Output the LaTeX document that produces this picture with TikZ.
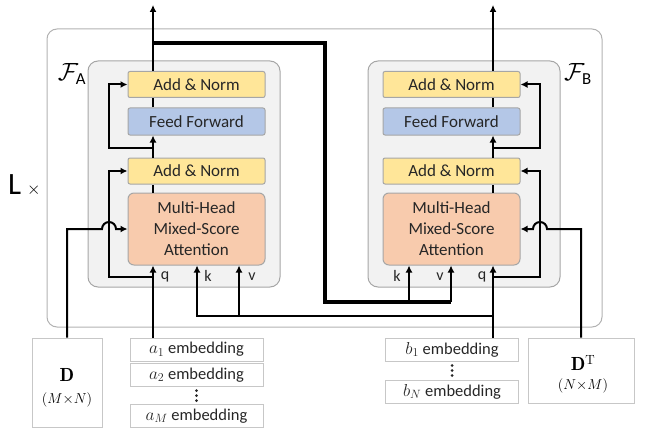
\documentclass[tikz,border=0pt]{standalone}
\usepackage{amsmath}
\usepackage{fontspec}
\setsansfont{Carlito}
\usetikzlibrary{arrows.meta, positioning, calc}
\definecolor{normYellow}{HTML}{FFE699}
\definecolor{ffBlue}{HTML}{B4C7E7}
\definecolor{attnOrange}{HTML}{F8CBAD}
\definecolor{frameGray}{HTML}{A6A6A6}
\definecolor{panelGray}{HTML}{F2F2F2}
\colorlet{inkGray}{black!85}

\tikzset{
  block/.style={draw=frameGray, line width=1pt, minimum width=137pt, inner sep=0pt,
    text=inkGray, align=center, rounded corners=2pt,
    font=\sffamily\fontsize{17}{21}\selectfont},
  normblock/.style={block, fill=normYellow, minimum height=26pt},
  ffblock/.style={block, fill=ffBlue, minimum height=27pt},
  attnblock/.style={block, fill=attnOrange, minimum height=72pt, rounded corners=6pt},
  embbox/.style={draw=black!22, line width=1pt, minimum width=133pt, minimum height=23pt,
    inner sep=0pt, text=inkGray, font=\sffamily\fontsize{16.5}{19}\selectfont},
  matbox/.style={draw=black!22, line width=1pt, inner sep=0pt, align=center, text=black},
  qkv/.style={text=inkGray, font=\sffamily\fontsize{16}{18}\selectfont},
  wire/.style={line width=2pt, line join=miter},
  bigwire/.style={line width=4.5pt, line join=miter},
}

\begin{document}
\begin{tikzpicture}[x=1pt, y=-1pt, >={Latex[length=7pt,width=7pt]}]
  \useasboundingbox (0,0) rectangle (650,433);
  % frames
  \draw[draw=black!30, line width=1pt, rounded corners=10pt] (47,29) rectangle (602,327);
  \draw[draw=frameGray, fill=panelGray, line width=1pt, rounded corners=10pt] (88,61) rectangle (280,287);
  \draw[draw=frameGray, fill=panelGray, line width=1pt, rounded corners=10pt] (368,61) rectangle (560,287);
  \node[font=\sffamily\fontsize{31}{31}\selectfont, anchor=west, inner sep=0pt] (layers) at (8,185)
    {L\hspace{6pt}\fontsize{18}{18}\selectfont$\times$};
  \node[font=\fontsize{24}{24}\selectfont, inner sep=0pt] (fA) at (72,74) {$\mathcal{F}_{\textsf{A}}$};
  \node[font=\fontsize{24}{24}\selectfont, inner sep=0pt] (fB) at (578,74) {$\mathcal{F}_{\textsf{B}}$};

  % encoder blocks
  \node[normblock] (anA1) at (196.5,84.5) {Add \& Norm};
  \node[ffblock]   (ffA)  at (196.5,121.5) {Feed Forward};
  \node[normblock] (anA2) at (196.5,171) {Add \& Norm};
  \node[attnblock] (mhaA) at (196.5,229) {Multi-Head\\Mixed-Score\\Attention};
  \node[normblock] (anB1) at (451.5,84.5) {Add \& Norm};
  \node[ffblock]   (ffB)  at (451.5,121.5) {Feed Forward};
  \node[normblock] (anB2) at (451.5,171) {Add \& Norm};
  \node[attnblock] (mhaB) at (451.5,229) {Multi-Head\\Mixed-Score\\Attention};

  % inputs
  \node[matbox, minimum width=70pt, minimum height=89pt] (dmat) at (67,382.5) {};
  \node[font=\fontsize{19}{19}\selectfont] (dlbl) at (67,375) {$\mathbf{D}$};
  \node[font=\fontsize{15}{15}\selectfont] (dsize) at (67,400) {$(M{\times}N)$};
  \node[matbox, minimum width=106pt, minimum height=65pt] (dmatT) at (581,370.5) {};
  \node[font=\fontsize{19}{19}\selectfont] (dTlbl) at (583,363) {$\mathbf{D}^{\mathrm{T}}$};
  \node[font=\fontsize{15}{15}\selectfont] (dTsize) at (583,386) {$(N{\times}M)$};
  \node[embbox] (a1) at (196.5,349.5) {$a_1$ embedding};
  \node[embbox] (a2) at (196.5,375) {$a_2$ embedding};
  \node[embbox] (aM) at (196.5,416) {$a_M$ embedding};
  \node[embbox] (b1) at (452,349.5) {$b_1$ embedding};
  \node[embbox] (bN) at (452,391.5) {$b_N$ embedding};
  % vertical dots
  \foreach \dy in {-5,0,5} {
    \fill[inkGray] ($(a2.south)!0.5!(aM.north)+(0,\dy)$) circle[radius=1.5pt];
    \fill[inkGray] ($(b1.south)!0.5!(bN.north)+(0,\dy)$) circle[radius=1.5pt];
  }

  % wire positions
  \coordinate (colA) at (153,0);   \coordinate (colB) at (493,0);
  \coordinate (resA) at (109,0);   \coordinate (resB) at (540,0);
  \coordinate (kA) at (197,0);     \coordinate (vA) at (239,0);
  \coordinate (kB) at (409,0);     \coordinate (vB) at (451,0);
  \coordinate (outTop) at (0,5);
  \coordinate (qRow) at (0,277);   \coordinate (ffRow) at (0,148);
  \coordinate (bRow) at (0,316);   \coordinate (crossRow) at (0,302);
  \coordinate (linkRow) at (0,43); \coordinate (linkX) at (325,0);
  \coordinate (hopA) at (102,229); \coordinate (hopB) at (547,229);

  % F_A
  \draw[wire,->] (a1.north -| colA) -- (mhaA.south -| colA);
  \draw[wire] (mhaA.north -| colA) -- (anA2.south -| colA);
  \draw[wire,->] (anA2.north -| colA) -- (ffA.south -| colA);
  \draw[wire] (ffA.north -| colA) -- (anA1.south -| colA);
  \draw[wire,->] (anA1.north -| colA) -- (colA |- outTop);
  \draw[wire,->] (colA |- qRow) -| (resA |- anA2.west) -- (anA2.west);
  \draw[wire,->] (colA |- ffRow) -| (resA |- anA1.west) -- (anA1.west);
  \draw[wire,->] (dmat.north) |- (hopA) arc[start angle=180, end angle=360, radius=7] -- (mhaA.west);
  \draw[wire,->] (colB |- bRow) -| (mhaA.south -| kA);
  \draw[wire,->] (vA |- bRow) -- (mhaA.south -| vA);

  % F_B
  \draw[wire,->] (b1.north -| colB) -- (mhaB.south -| colB);
  \draw[wire] (mhaB.north -| colB) -- (anB2.south -| colB);
  \draw[wire,->] (anB2.north -| colB) -- (ffB.south -| colB);
  \draw[wire] (ffB.north -| colB) -- (anB1.south -| colB);
  \draw[wire,->] (anB1.north -| colB) -- (colB |- outTop);
  \draw[wire,->] (colB |- qRow) -| (resB |- anB2.east) -- (anB2.east);
  \draw[wire,->] (colB |- ffRow) -| (resB |- anB1.east) -- (anB1.east);
  \draw[wire,->] (dmatT.north) |- (hopB) arc[start angle=0, end angle=-180, radius=7] -- (mhaB.east);
  \draw[bigwire] (colA |- linkRow) -| (linkX |- crossRow) -- (vB |- crossRow);
  \draw[wire,->] (kB |- crossRow) -- (mhaB.south -| kB);
  \draw[wire,->] (vB |- crossRow) -- (mhaB.south -| vB);

  % q k v labels
  \node[qkv] (qA) at (165,277) {q};
  \node[qkv] (kAl) at (208,276) {k};
  \node[qkv] (vAl) at (252,277) {v};
  \node[qkv] (kBl) at (397,276) {k};
  \node[qkv] (vBl) at (440,277) {v};
  \node[qkv] (qB) at (482,277) {q};
\end{tikzpicture}
\end{document}
